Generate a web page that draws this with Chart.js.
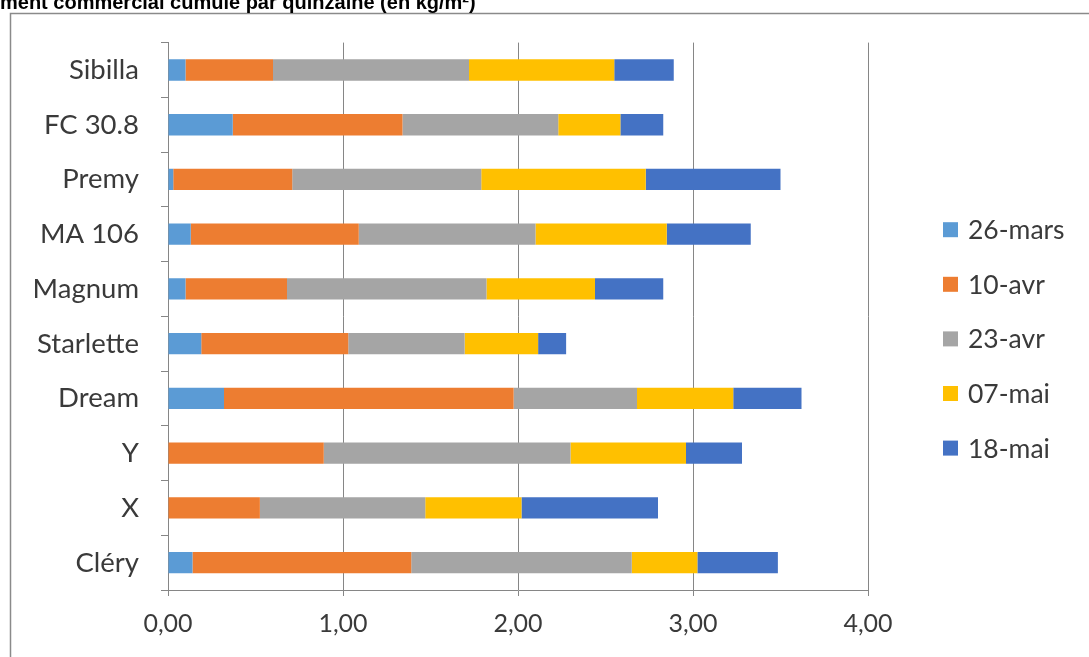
<!DOCTYPE html>
<html>
<head>
<meta charset="utf-8">
<script src="https://cdn.jsdelivr.net/npm/chart.js@4.4.1/dist/chart.umd.min.js"></script>
<style>
  html, body { margin: 0; padding: 0; background: #ffffff; }
  #wrap { position: relative; width: 1089px; height: 657px; }
</style>
</head>
<body>
<div id="wrap"><canvas id="c"></canvas></div>
<script>
// ---- data ----
const titleText = 'ment commercial cumulé par quinzaine (en kg/m²)';
const categories = ['Sibilla', 'FC 30.8', 'Premy', 'MA 106', 'Magnum', 'Starlette', 'Dream', 'Y', 'X', 'Cléry'];
const seriesLabels = ['26-mars', '10-avr', '23-avr', '07-mai', '18-mai'];
const values26mars = [0.10, 0.37, 0.03, 0.13, 0.10, 0.19, 0.32, 0.00, 0.00, 0.14];
const values10avr  = [0.50, 0.97, 0.68, 0.96, 0.58, 0.84, 1.655, 0.89, 0.525, 1.25];
const values23avr  = [1.12, 0.89, 1.08, 1.01, 1.14, 0.665, 0.705, 1.41, 0.945, 1.26];
const values07mai  = [0.83, 0.355, 0.94, 0.75, 0.62, 0.42, 0.55, 0.66, 0.55, 0.375];
const values18mai  = [0.34, 0.245, 0.77, 0.48, 0.39, 0.16, 0.39, 0.32, 0.78, 0.46];
const xTickValues = [0, 1, 2, 3, 4];

// ---- styles ----
const seriesColors = ['#5B9BD5', '#ED7D31', '#A5A5A5', '#FFC000', '#4472C4'];
const textColor = '#3a3a3a';
const gridColor = '#868686';

const allValues = [values26mars, values10avr, values23avr, values07mai, values18mai];
const datasets = seriesLabels.map((lab, i) => ({
  label: lab,
  data: allValues[i],
  backgroundColor: seriesColors[i],
  borderWidth: 0,
  barPercentage: 0.39,
  categoryPercentage: 1.0
}));

const framePlugin = {
  id: 'frame',
  beforeDraw(chart) {
    const ctx = chart.ctx;
    ctx.save();
    ctx.fillStyle = '#ffffff';
    ctx.fillRect(0, 0, chart.width, chart.height);
    ctx.strokeStyle = '#8a8a8a';
    ctx.lineWidth = 1.5;
    ctx.strokeRect(10.5, 13.5, chart.width + 20, chart.height + 20);
    ctx.restore();
  },
  afterDraw(chart) {
    const ctx = chart.ctx;
    ctx.save();
    // title (clipped at the top, as in the reference)
    ctx.fillStyle = '#000000';
    ctx.font = 'bold 20px "Liberation Sans", Arial, sans-serif';
    ctx.textAlign = 'left';
    ctx.textBaseline = 'alphabetic';
    ctx.fillText(titleText, 0, 8.5);
    // legend
    ctx.font = '26.5px Lato, sans-serif';
    ctx.textBaseline = 'middle';
    chart.data.datasets.forEach((ds, i) => {
      const y = 229.7 + i * 54.6;
      ctx.fillStyle = ds.backgroundColor;
      ctx.fillRect(943, y - 7.5, 15, 15);
      ctx.fillStyle = textColor;
      ctx.fillText(ds.label, 968, y + 1);
    });
    ctx.restore();
  }
};

new Chart(document.getElementById('c'), {
  type: 'bar',
  data: { labels: categories, datasets: datasets },
  options: {
    indexAxis: 'y',
    responsive: true,
    maintainAspectRatio: false,
    animation: false,
    layout: { padding: { top: 42.6, right: 221, left: 0, bottom: 0 } },
    plugins: {
      legend: { display: false },
      title: { display: false },
      tooltip: { enabled: false }
    },
    scales: {
      x: {
        stacked: true,
        min: 0,
        max: 4,
        afterBuildTicks(scale) { scale.ticks = xTickValues.map(v => ({ value: v })); },
        afterFit(scale) { scale.height = 67; },
        ticks: {
          callback: (v) => Number(v).toFixed(2).replace('.', ','),
          color: textColor,
          font: { family: 'Lato', size: 25 },
          padding: 13,
          maxRotation: 0
        },
        grid: { color: gridColor, lineWidth: 1, tickLength: 6, drawTicks: true },
        border: { display: true, color: gridColor, width: 1 }
      },
      y: {
        stacked: true,
        afterFit(scale) { scale.width = 168; },
        ticks: { color: textColor, font: { family: 'Lato', size: 27.5 }, padding: 22 },
        grid: { offset: true, drawOnChartArea: false, drawTicks: true, tickLength: 7, color: gridColor },
        border: { display: true, color: gridColor, width: 1 }
      }
    }
  },
  plugins: [framePlugin]
});
</script>
</body>
</html>
